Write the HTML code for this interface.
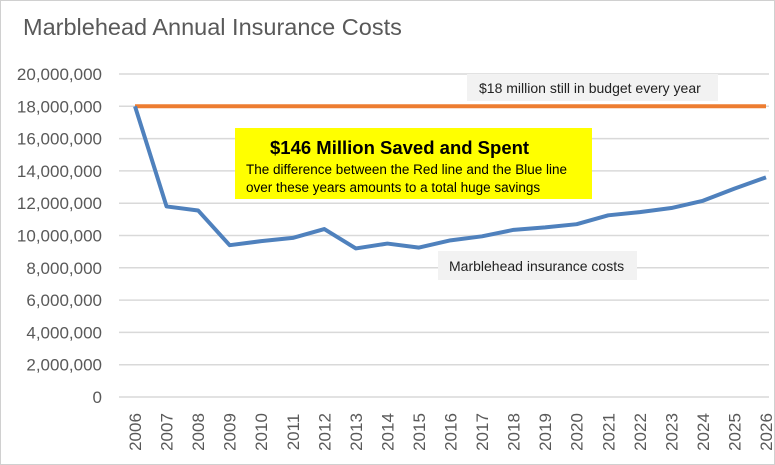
<!DOCTYPE html>
<html><head><meta charset="utf-8"><style>
body{margin:0;background:#fff}
#c{position:relative;width:773px;height:463px;border:1px solid #d0d0d0;font-family:"Liberation Sans",sans-serif;overflow:hidden}
</style></head><body>
<div id="c">
<svg id="s" width="773" height="463"></svg>
</div>
<script>
const years=["2006","2007","2008","2009","2010","2011","2012","2013","2014","2015","2016","2017","2018","2019","2020","2021","2022","2023","2024","2025","2026"];
const costs=[18.0,11.8,11.55,9.4,9.65,9.85,10.4,9.2,9.5,9.25,9.7,9.95,10.35,10.5,10.7,11.25,11.45,11.7,12.15,12.9,13.6];
const budget=[18,18,18,18,18,18,18,18,18,18,18,18,18,18,18,18,18,18,18,18,18];
const yTicks=[0,2,4,6,8,10,12,14,16,18,20];
const yTickLabels=["0","2,000,000","4,000,000","6,000,000","8,000,000","10,000,000","12,000,000","14,000,000","16,000,000","18,000,000","20,000,000"];
const NS="http://www.w3.org/2000/svg";
const s=document.getElementById('s');
const x0=134,x1=765,y0=396,y1=73;
const X=i=>x0+(x1-x0)*i/(years.length-1);
const Y=v=>y0-(y0-y1)*v/20;
function el(t,a,txt){const e=document.createElementNS(NS,t);for(const k in a)e.setAttribute(k,a[k]);if(txt!=null)e.textContent=txt;s.appendChild(e);return e;}
let t=el('text',{x:22,y:34,'font-size':23.5,fill:'#595959'},'Marblehead Annual Insurance Costs');


yTicks.forEach((v,i)=>{
 let g=el('line',{x1:118,x2:768,y1:Y(v),y2:Y(v),stroke:'#d9d9d9','stroke-width':1.5});
 
 
 let l=el('text',{x:101,y:Y(v)+6,'font-size':17,fill:'#595959','text-anchor':'end'},yTickLabels[i]);
 
 
});
years.forEach((yr,i)=>{
 let l=el('text',{transform:`translate(${X(i)+6},${y0+35}) rotate(-90)`,'font-size':17,fill:'#595959','text-anchor':'middle'},yr);
 
 
});
let b=el('polyline',{points:budget.map((v,i)=>X(i)+','+Y(v)).join(' '),fill:'none',stroke:'#ed7d31','stroke-width':4});


let c=el('polyline',{points:costs.map((v,i)=>X(i)+','+Y(v)).join(' '),fill:'none',stroke:'#4f81bd','stroke-width':4,'stroke-linejoin':'round'});


let r=el('rect',{x:466,y:73,width:251,height:27,fill:'#f2f2f2'});


let bt=el('text',{x:478,y:92,'font-size':14,fill:'#222'},'$18 million still in budget every year');


let yb=el('rect',{x:234,y:127,width:357,height:71,fill:'#ffff00'});


let yt=el('text',{x:269,y:153,'font-size':18.5,'font-weight':'bold',fill:'#000'},'$146 Million Saved and Spent');


let y2=el('text',{x:245,y:173,'font-size':13.5,fill:'#000'},'The difference between the Red line and the Blue line');


let y3=el('text',{x:245,y:191,'font-size':13.5,fill:'#000'},'over these years amounts to a total huge savings');


let mr=el('rect',{x:437,y:250,width:199,height:29,fill:'#f2f2f2'});


let mt=el('text',{x:448,y:270,'font-size':14,fill:'#222'},'Marblehead insurance costs');


</script>
</body></html>
